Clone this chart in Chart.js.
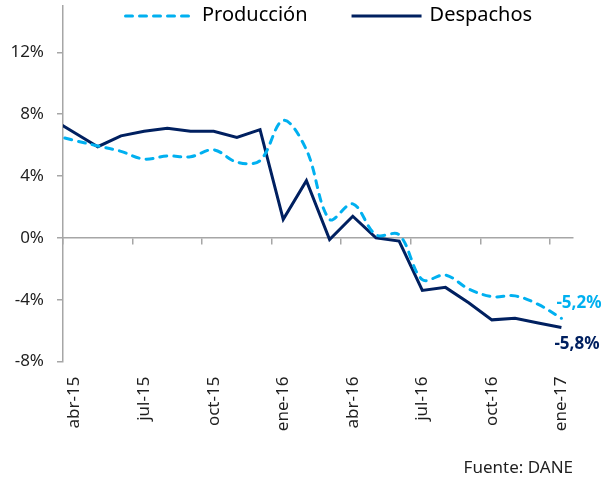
<!DOCTYPE html>
<html>
<head>
<meta charset="utf-8">
<script src="https://cdn.jsdelivr.net/npm/chart.js@4.4.0/dist/chart.umd.min.js"></script>
<style>
  html, body { margin: 0; padding: 0; background: #fff; }
  canvas { display: block; }
</style>
</head>
<body>
<canvas id="myChart" width="604" height="478"></canvas>
<script>
// mar-15 sits outside the axis, only so the lines enter from the left edge
const months = ["mar-15", "abr-15", "may-15", "jun-15", "jul-15", "ago-15", "sep-15", "oct-15", "nov-15", "dic-15",
  "ene-16", "feb-16", "mar-16", "abr-16", "may-16", "jun-16", "jul-16", "ago-16", "sep-16", "oct-16", "nov-16", "dic-16", "ene-17"];
const produccion = [6.7, 6.3, 5.95, 5.6, 5.1, 5.3, 5.25, 5.7, 4.9, 5.0, 7.6, 5.7, 1.2, 2.2, 0.2, 0.2, -2.7, -2.4, -3.3, -3.8, -3.75, -4.3, -5.2];
const despachos = [7.7, 6.8, 5.9, 6.6, 6.9, 7.1, 6.9, 6.9, 6.5, 7.0, 1.2, 3.7, -0.1, 1.4, 0.0, -0.2, -3.4, -3.2, -4.2, -5.3, -5.2, -5.5, -5.8];
const yTicks = [-8, -4, 0, 4, 8, 12];
const firstMonth = "abr-15";
const source = "Fuente: DANE";

const FONT = '"Noto Sans", "Open Sans", sans-serif';
const axisGray = "#A6A6A6";
const textColor = "#1f1f1f";

// value label next to the last point of each line
const endLabels = {
  id: "endLabels",
  afterDatasetsDraw(chart) {
    const ctx = chart.ctx;
    const offsets = [[-5, -15], [-7, 17]];
    chart.data.datasets.forEach((ds, i) => {
      const meta = chart.getDatasetMeta(i);
      const pt = meta.data[meta.data.length - 1];
      const v = ds.data[ds.data.length - 1];
      ctx.save();
      ctx.font = "bold 17px " + FONT;
      ctx.fillStyle = ds.borderColor;
      ctx.textAlign = "left";
      ctx.textBaseline = "middle";
      ctx.fillText(v.toFixed(1).replace(".", ",") + "%", pt.x + offsets[i][0], pt.y + offsets[i][1]);
      ctx.restore();
    });
  }
};

// legend drawn over the top of the plot area, as in the original
const topLegend = {
  id: "topLegend",
  afterDraw(chart) {
    const ctx = chart.ctx;
    let x = 124;
    const y = 15;
    ctx.save();
    ctx.font = "20px " + FONT;
    ctx.textBaseline = "middle";
    chart.data.datasets.forEach(ds => {
      ctx.beginPath();
      ctx.strokeStyle = ds.borderColor;
      ctx.lineWidth = ds.borderWidth;
      ctx.lineCap = ds.borderCapStyle || "butt";
      ctx.setLineDash(ds.borderDash || []);
      ctx.moveTo(x + (ds.borderDash ? 1.5 : 0), y + 1);
      ctx.lineTo(x + 70, y + 1);
      ctx.stroke();
      ctx.setLineDash([]);
      ctx.fillStyle = "#000";
      ctx.fillText(ds.label, x + 78, y);
      x += 78 + ctx.measureText(ds.label).width + 44;
    });
    ctx.restore();
  }
};

const ctx = document.getElementById("myChart").getContext("2d");
const myChart = new Chart(ctx, {
  type: "line",
  data: {
    labels: months,
    datasets: [{
      label: "Producción",
      data: produccion,
      borderColor: "#00B0F0",
      borderWidth: 3,
      borderDash: [7, 7],
      borderCapStyle: "round",
      tension: 0.35,
      pointRadius: 0,
      fill: false,
      clip: 0
    }, {
      label: "Despachos",
      data: despachos,
      borderColor: "#002060",
      borderWidth: 3,
      tension: 0,
      pointRadius: 0,
      fill: false,
      clip: 0
    }]
  },
  options: {
    responsive: false,
    animation: false,
    devicePixelRatio: 1,
    layout: { padding: { top: 6, right: 31, bottom: 0, left: 0 } },
    plugins: {
      tooltip: { enabled: false },
      legend: { display: false },
      title: {
        display: true,
        text: source,
        position: "bottom",
        align: "end",
        color: textColor,
        padding: 0,
        font: { family: FONT, size: 17, weight: "normal" }
      }
    },
    scales: {
      x: {
        type: "category",
        min: firstMonth,
        offset: true,
        border: { display: false },
        grid: { display: false, drawTicks: false },
        ticks: {
          autoSkip: false,
          minRotation: 90,
          maxRotation: 90,
          padding: 15,
          color: textColor,
          font: { family: FONT, size: 17 },
          callback: function (v) { return (v - 1) % 3 === 0 ? this.getLabelForValue(v) : null; }
        },
        afterFit: s => { s.height = 96; }
      },
      x0: {
        type: "category",
        position: { y: 0 },
        min: firstMonth,
        offset: true,
        border: { color: axisGray, width: 1.5 },
        grid: {
          offset: true,
          drawOnChartArea: false,
          tickLength: 6,
          lineWidth: 1.5,
          color: c => (c.tick && (c.tick.value - 1) % 3 === 0) ? axisGray : "transparent"
        },
        ticks: { display: false }
      },
      y: {
        min: -8,
        max: 15,
        afterBuildTicks: s => { s.ticks = yTicks.map(v => ({ value: v })); },
        border: { color: axisGray, width: 1.5 },
        grid: { drawOnChartArea: false, tickLength: 6, lineWidth: 1.5, color: axisGray },
        ticks: {
          padding: 13,
          color: textColor,
          font: { family: FONT, size: 17 },
          callback: v => v + "%"
        },
        afterFit: s => { s.width = 63; s.paddingTop = 0; s.paddingBottom = 0; }
      }
    }
  },
  plugins: [endLabels, topLegend]
});
</script>
</body>
</html>
